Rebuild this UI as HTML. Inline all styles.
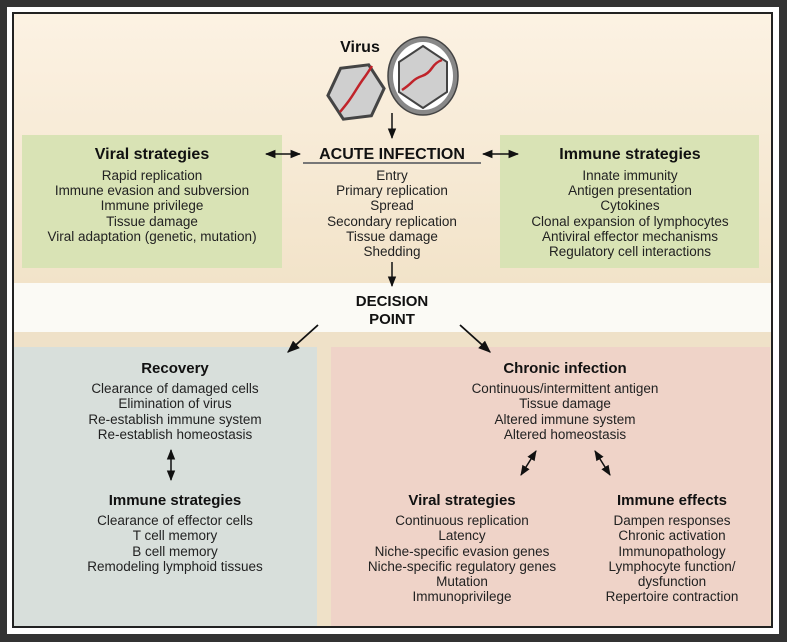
<!DOCTYPE html>
<html><head><meta charset="utf-8"><style>
html,body{margin:0;padding:0;background:#333;}
svg{display:block}
text{font-family:"Liberation Sans Narrow","Liberation Sans",sans-serif;fill:#222;}
.h{font-family:"Liberation Sans",sans-serif;font-weight:bold;font-size:15px;fill:#111}
.l{font-size:13.5px}
</style></head><body>
<svg width="787" height="642" viewBox="0 0 787 642" xmlns="http://www.w3.org/2000/svg">
<defs>
<linearGradient id="bg" x1="0" y1="0" x2="0" y2="1"><stop offset="0" stop-color="#fcf2e3"/><stop offset="1" stop-color="#f2e3c9"/></linearGradient>
<marker id="a" viewBox="0 0 10 10" refX="9" refY="5" markerWidth="7" markerHeight="7" orient="auto-start-reverse"><path d="M0,1 L10,5 L0,9 z" fill="#111"/></marker>
</defs>
<rect x="0" y="0" width="787" height="642" fill="#333"/>
<rect x="7" y="7" width="772" height="627" fill="#fff"/>
<rect x="13" y="13" width="759" height="614" fill="#efe1c8" stroke="#222" stroke-width="2"/>
<rect x="14" y="14" width="757" height="269" fill="url(#bg)"/>
<rect x="14" y="283" width="757" height="49" fill="#fbfaf5"/>
<rect x="14" y="347" width="303" height="279" fill="#d8dfdb"/>
<rect x="331" y="347" width="439" height="279" fill="#efd3c8"/>
<rect x="22" y="135" width="260" height="133" fill="#d9e3b5"/>
<rect x="500" y="135" width="259" height="133" fill="#d9e3b5"/>

<!-- viruses -->
<text x="360" y="52" text-anchor="middle" class="h" style="font-size:16px">Virus</text>
<g transform="translate(356,92) rotate(25)">
<polygon points="0,-30 24,-15 24,15 0,30 -24,15 -24,-15" fill="#cfcfcf" stroke="#444" stroke-width="3"/>
</g>
<path d="M340,112 q5,-6 8,-10 t8,-12 t8,-12 t8,-12" fill="none" stroke="#c0232a" stroke-width="2.5"/>
<ellipse cx="423" cy="76" rx="35" ry="39" fill="#888" stroke="#444" stroke-width="1.5"/>
<ellipse cx="423" cy="76" rx="30" ry="34" fill="#fff"/>
<polygon points="423,46 447,62 447,92 423,108 399,92 399,62" fill="#cfcfcf" stroke="#444" stroke-width="2"/>
<path d="M402,90 q6,-4 10,-8 t10,-6 t10,-8 t10,-8" fill="none" stroke="#c0232a" stroke-width="2.5"/>

<line x1="392" y1="113" x2="392" y2="138" stroke="#111" stroke-width="1.5" marker-end="url(#a)"/>
<text x="392" y="159" text-anchor="middle" class="h" style="font-size:16px">ACUTE INFECTION</text>
<line x1="303" y1="163" x2="481" y2="163" stroke="#777" stroke-width="2"/>
<line x1="266" y1="154" x2="300" y2="154" stroke="#111" stroke-width="1.5" marker-end="url(#a)" marker-start="url(#a)"/>
<line x1="483" y1="154" x2="518" y2="154" stroke="#111" stroke-width="1.5" marker-end="url(#a)" marker-start="url(#a)"/>

<text x="152" y="159" text-anchor="middle" class="h" style="font-size:16px">Viral strategies</text>
<g class="l" text-anchor="middle">
<text x="152" y="180">Rapid replication</text>
<text x="152" y="195">Immune evasion and subversion</text>
<text x="152" y="210">Immune privilege</text>
<text x="152" y="226">Tissue damage</text>
<text x="152" y="241">Viral adaptation (genetic, mutation)</text>
</g>
<g class="l" text-anchor="middle">
<text x="392" y="180">Entry</text>
<text x="392" y="195">Primary replication</text>
<text x="392" y="210">Spread</text>
<text x="392" y="226">Secondary replication</text>
<text x="392" y="241">Tissue damage</text>
<text x="392" y="256">Shedding</text>
</g>
<text x="630" y="159" text-anchor="middle" class="h" style="font-size:16px">Immune strategies</text>
<g class="l" text-anchor="middle">
<text x="630" y="180">Innate immunity</text>
<text x="630" y="195">Antigen presentation</text>
<text x="630" y="210">Cytokines</text>
<text x="630" y="226">Clonal expansion of lymphocytes</text>
<text x="630" y="241">Antiviral effector mechanisms</text>
<text x="630" y="256">Regulatory cell interactions</text>
</g>

<line x1="392" y1="262" x2="392" y2="286" stroke="#111" stroke-width="1.5" marker-end="url(#a)"/>
<text x="392" y="306" text-anchor="middle" class="h">DECISION</text>
<text x="392" y="324" text-anchor="middle" class="h">POINT</text>
<line x1="318" y1="325" x2="288" y2="352" stroke="#111" stroke-width="1.8" marker-end="url(#a)"/>
<line x1="460" y1="325" x2="490" y2="352" stroke="#111" stroke-width="1.8" marker-end="url(#a)"/>

<text x="175" y="373" text-anchor="middle" class="h">Recovery</text>
<g class="l" text-anchor="middle">
<text x="175" y="393">Clearance of damaged cells</text>
<text x="175" y="408">Elimination of virus</text>
<text x="175" y="424">Re-establish immune system</text>
<text x="175" y="439">Re-establish homeostasis</text>
</g>
<line x1="171" y1="450" x2="171" y2="480" stroke="#111" stroke-width="1.5" marker-end="url(#a)" marker-start="url(#a)"/>
<text x="175" y="505" text-anchor="middle" class="h">Immune strategies</text>
<g class="l" text-anchor="middle">
<text x="175" y="525">Clearance of effector cells</text>
<text x="175" y="540">T cell memory</text>
<text x="175" y="556">B cell memory</text>
<text x="175" y="571">Remodeling lymphoid tissues</text>
</g>

<text x="565" y="373" text-anchor="middle" class="h">Chronic infection</text>
<g class="l" text-anchor="middle">
<text x="565" y="393">Continuous/intermittent antigen</text>
<text x="565" y="408">Tissue damage</text>
<text x="565" y="424">Altered immune system</text>
<text x="565" y="439">Altered homeostasis</text>
</g>
<line x1="536" y1="451" x2="521" y2="475" stroke="#111" stroke-width="1.5" marker-end="url(#a)" marker-start="url(#a)"/>
<line x1="595" y1="451" x2="610" y2="475" stroke="#111" stroke-width="1.5" marker-end="url(#a)" marker-start="url(#a)"/>

<text x="462" y="505" text-anchor="middle" class="h">Viral strategies</text>
<g class="l" text-anchor="middle">
<text x="462" y="525">Continuous replication</text>
<text x="462" y="540">Latency</text>
<text x="462" y="556">Niche-specific evasion genes</text>
<text x="462" y="571">Niche-specific regulatory genes</text>
<text x="462" y="586">Mutation</text>
<text x="462" y="601">Immunoprivilege</text>
</g>
<text x="672" y="505" text-anchor="middle" class="h">Immune effects</text>
<g class="l" text-anchor="middle">
<text x="672" y="525">Dampen responses</text>
<text x="672" y="540">Chronic activation</text>
<text x="672" y="556">Immunopathology</text>
<text x="672" y="571">Lymphocyte function/</text>
<text x="672" y="586">dysfunction</text>
<text x="672" y="601">Repertoire contraction</text>
</g>
</svg>
</body></html>
